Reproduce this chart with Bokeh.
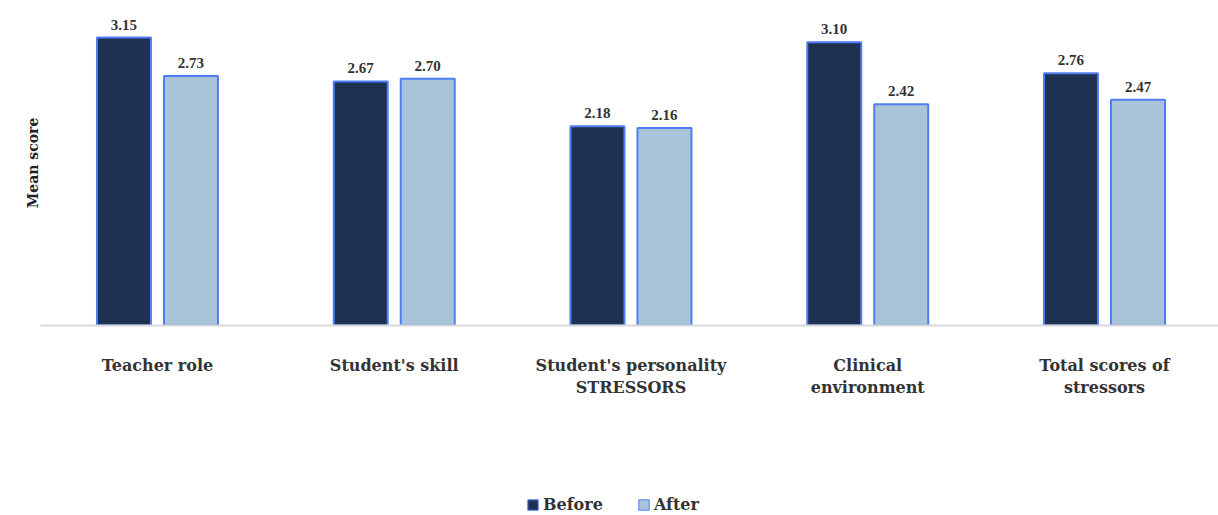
from bokeh.plotting import figure
from bokeh.layouts import column
from bokeh.models import ColumnDataSource, Range1d, FixedTicker, Legend, LegendItem, LabelSet
from bokeh.embed import file_html
from bokeh.resources import INLINE

categories = ["Teacher role", "Student's skill", "Student's personality\nSTRESSORS",
              "Clinical\nenvironment", "Total scores of\nstressors"]
series_names = ["Before", "After"]
before = [3.15, 2.67, 2.18, 3.10, 2.76]
after = [2.73, 2.70, 2.16, 2.42, 2.47]

FONT = "DejaVu Serif"
BEFORE_C = "#1f3150"
AFTER_C = "#a9c4d9"
EDGE = "#4f7df5"

idx = list(range(len(categories)))
off = 0.1415
w = 0.228

src_b = ColumnDataSource(dict(x=[i - off for i in idx], top=before, lab=[f"{v:.2f}" for v in before]))
src_a = ColumnDataSource(dict(x=[i + off for i in idx], top=after, lab=[f"{v:.2f}" for v in after]))

p = figure(width=1218, height=455, output_backend="svg", toolbar_location=None,
           x_range=Range1d(-0.494, 4.4815), y_range=Range1d(0, 3.556),
           min_border_left=40, min_border_right=0, min_border_top=0, min_border_bottom=130)
p.outline_line_color = None
p.xgrid.visible = False
p.ygrid.visible = False

p.vbar(x="x", top="top", width=w, source=src_b, fill_color=BEFORE_C, line_color=EDGE, line_width=2)
p.vbar(x="x", top="top", width=w, source=src_a, fill_color=AFTER_C, line_color=EDGE, line_width=2)

for s in (src_b, src_a):
    p.add_layout(LabelSet(x="x", y="top", text="lab", source=s, text_align="center",
                          text_baseline="bottom", y_offset=8, text_font=FONT,
                          text_font_style="bold", text_font_size="15px", text_color="#333333"))

p.xaxis.ticker = FixedTicker(ticks=idx)
p.xaxis.major_label_overrides = {i: c for i, c in enumerate(categories)}
p.xaxis.major_tick_line_color = None
p.xaxis.minor_tick_line_color = None
p.xaxis.axis_line_color = "#d9d9d9"
p.xaxis.axis_line_width = 2
p.xaxis.major_label_text_font = FONT
p.xaxis.major_label_text_font_style = "bold"
p.xaxis.major_label_text_font_size = "16px"
p.xaxis.major_label_text_color = "#333333"
p.xaxis.major_label_standoff = 24

p.yaxis.axis_label = "Mean score"
p.yaxis.ticker = FixedTicker(ticks=[])
p.yaxis.axis_label_text_font = FONT
p.yaxis.axis_label_text_font_style = "bold"
p.yaxis.axis_label_text_font_size = "14px"
p.yaxis.axis_label_text_color = "#222222"
p.yaxis.major_tick_line_color = None
p.yaxis.minor_tick_line_color = None
p.yaxis.axis_line_color = None
p.yaxis.axis_label_standoff = 0

# legend strip (dummy glyphs hidden behind the legend's white background)
lg = figure(width=1218, height=60, output_backend="svg", toolbar_location=None,
            x_range=Range1d(0, 1), y_range=Range1d(0, 1),
            min_border_left=0, min_border_right=0, min_border_top=0, min_border_bottom=0)
lg.axis.visible = False
lg.grid.visible = False
lg.outline_line_color = None
rb = lg.vbar(x=[0.5], bottom=[0.2], top=[0.22], width=0.001, fill_color=BEFORE_C, line_color=EDGE, line_width=1)
ra = lg.vbar(x=[0.5], bottom=[0.2], top=[0.22], width=0.001, fill_color=AFTER_C, line_color=EDGE, line_width=1)
legend = Legend(items=[LegendItem(label=series_names[0], renderers=[rb]),
                       LegendItem(label=series_names[1], renderers=[ra])],
                orientation="horizontal", location=(486, 1), border_line_color=None,
                background_fill_color="white", background_fill_alpha=1,
                label_text_font=FONT, label_text_font_style="bold",
                label_text_font_size="16px", label_text_color="#333333",
                glyph_width=13, glyph_height=13, spacing=34, label_standoff=4,
                padding=2, margin=0)
lg.add_layout(legend, "center")

open("out.html", "w").write(file_html(column(p, lg, spacing=0), INLINE))
